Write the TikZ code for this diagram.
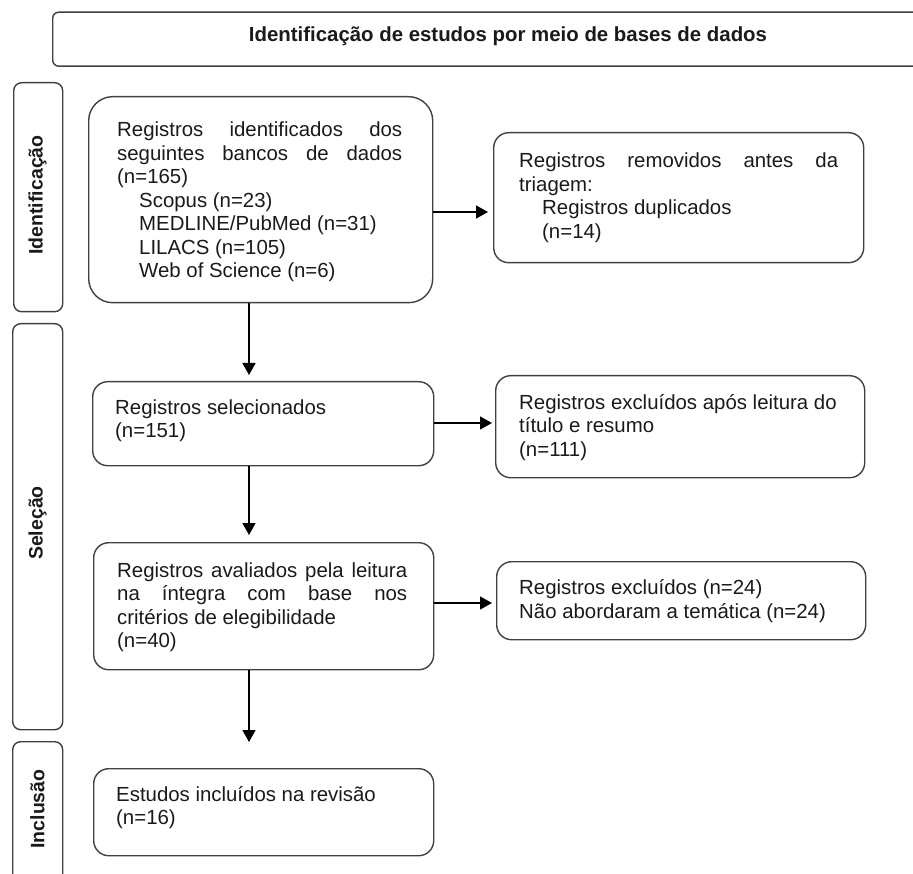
\documentclass[tikz,border=0pt]{standalone}
\usepackage{fontspec}
\setmainfont{Liberation Sans}
\usetikzlibrary{arrows.meta}
\definecolor{boxgray}{HTML}{404040}
\definecolor{txt}{HTML}{1A1A1A}
\tikzset{
  box/.style={draw=boxgray, line width=1.4pt, inner sep=0pt, anchor=north west},
  bigbox/.style={box, rounded corners=24pt},
  midbox/.style={box, rounded corners=15pt},
  sidebox/.style={box, rounded corners=8pt},
  bodytxt/.style={anchor=base west, inner sep=0pt, align=left, text=txt,
    font=\fontsize{20.4pt}{23.5pt}\selectfont},
  sidetxt/.style={rotate=90, inner sep=0pt, text=txt,
    font=\fontsize{19.5pt}{22pt}\selectfont\bfseries},
  arr/.style={line width=1.4pt, -{Triangle[length=12pt,width=13pt]}},
}
\begin{document}
\begin{tikzpicture}[x=1pt,y=-1pt]
\useasboundingbox (0,0) rectangle (913,874);
\clip (0,0) rectangle (913,874);

% title
\node[box, rounded corners=6pt, minimum width=910pt, minimum height=54pt] (title) at (52,11.5) {};
\node[inner sep=0pt, text=txt, font=\fontsize{20.4pt}{24pt}\selectfont\bfseries] (titletxt) at (508,36.7) {Identificação de estudos por meio de bases de dados};

% side labels
\node[sidebox, minimum width=49pt, minimum height=229pt] (sid) at (13,82) {};
\node[sidetxt] (sidtxt) at (37.5,195) {Identificação};
\node[sidebox, minimum width=50pt, minimum height=406pt] (ssel) at (12,323) {};
\node[sidetxt] (sseltxt) at (37.5,523) {Seleção};
\node[sidebox, minimum width=50pt, minimum height=160pt] (sinc) at (12,741) {};
\node[sidetxt] (sinctxt) at (37.5,809) {Inclusão};

% main boxes (text nodes are anchored at the baseline of their last line)
\node[bigbox, minimum width=344pt, minimum height=206pt] (b1) at (88,96) {};
\node[bodytxt] (b1t) at (117,278) {%
\makebox[285pt][s]{Registros identificados dos}\\
\makebox[285pt][s]{seguintes bancos de dados}\\
(n=165)\\
\hspace*{22pt}Scopus (n=23)\\
\hspace*{22pt}MEDLINE/PubMed (n=31)\\
\hspace*{22pt}LILACS (n=105)\\
\hspace*{22pt}Web of Science (n=6)};

\node[midbox, minimum width=370pt, minimum height=130pt] (rem) at (493,132) {};
\node[bodytxt] (remt) at (519,238.5) {%
\makebox[319pt][s]{Registros removidos antes da}\\
triagem:\\
\hspace*{23pt}Registros duplicados\\
\hspace*{23pt}(n=14)};

\node[midbox, minimum width=341pt, minimum height=84pt] (b2) at (92,381) {};
\node[bodytxt] (b2t) at (115,438) {Registros selecionados\\(n=151)};

\node[midbox, minimum width=369pt, minimum height=102pt] (ex1) at (495,375) {};
\node[bodytxt] (ex1t) at (519,456) {Registros excluídos após leitura do\\título e resumo\\(n=111)};

\node[midbox, minimum width=340pt, minimum height=127pt] (b3) at (93,542) {};
\node[bodytxt] (b3t) at (117,647.5) {%
\makebox[290pt][s]{Registros avaliados pela leitura}\\
\makebox[290pt][s]{na íntegra com base nos}\\
critérios de elegibilidade\\
(n=40)};

\node[midbox, minimum width=369pt, minimum height=78pt] (ex2) at (496,561) {};
\node[bodytxt] (ex2t) at (519,618) {Registros excluídos (n=24)\\Não abordaram a temática (n=24)};

\node[midbox, minimum width=340pt, minimum height=87pt] (b4) at (93,768) {};
\node[bodytxt] (b4t) at (116,824.5) {Estudos incluídos na revisão\\(n=16)};

% connectors
\coordinate (ax) at (249,0);
\coordinate (h1) at (0,212);
\coordinate (h2) at (0,423);
\coordinate (h3) at (0,603);
\draw[arr, shorten >=6pt] (b1.south -| ax) -- (b2.north -| ax);
\draw[arr, shorten >=7pt] (b2.south -| ax) -- (b3.north -| ax);
\draw[arr, shorten >=26pt] (b3.south -| ax) -- (b4.north -| ax);
\draw[arr, shorten >=5pt] (b1.east |- h1) -- (rem.west |- h1);
\draw[arr, shorten >=3pt] (b2.east |- h2) -- (ex1.west |- h2);
\draw[arr, shorten >=4pt] (b3.east |- h3) -- (ex2.west |- h3);
\end{tikzpicture}
\end{document}
